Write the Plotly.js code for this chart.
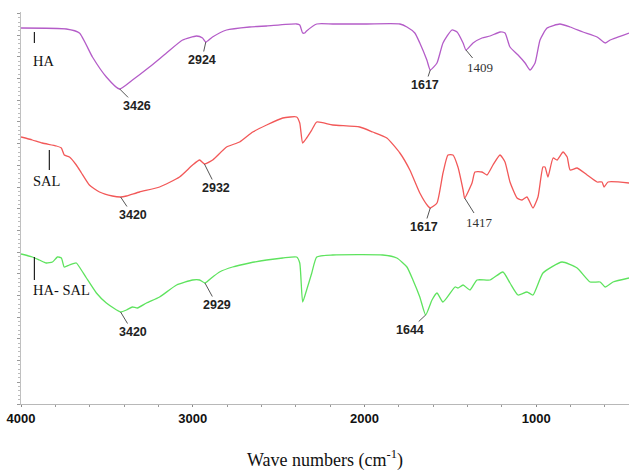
<!DOCTYPE html>
<html>
<head>
<meta charset="utf-8">
<script src="https://cdn.plot.ly/plotly-3.0.1.min.js"></script>
<style>html,body{margin:0;padding:0;background:#fff;}#chart{width:629px;height:474px;}</style>
</head>
<body>
<div id="chart"></div>
<script>
// Wavenumbers (cm-1) and relative transmittance (arbitrary, stacked)
const wnHA = [4000,3736,3660,3584,3503,3427,3351,3252,3153,3059,2978,2943,2924,2885,2803,2669,2570,2395,2377,2360,2348,2337,2278,2185,1987,1794,1753,1707,1678,1637,1617,1578,1543,1491,1461,1426,1409,1368,1316,1269,1211,1182,1153,1106,1065,1036,1007,978,937,862,803,728,646,599,570,460];
const tHA  = [376,375,371,347,327,315,324,337,351,364,368,366,362,367,374,377,378,380,379,371,371,373,380,380,380,380,377,371,361,344,334,341,361,374,372,361,354,361,366,368,372,371,357,349,341,334,341,364,376,380,377,372,367,361,364,371];

const wnSAL = [4000,3934,3876,3794,3765,3748,3718,3678,3648,3602,3543,3468,3420,3386,3310,3193,3077,3001,2960,2932,2884,2803,2727,2651,2570,2476,2395,2377,2360,2337,2307,2278,2185,2028,1952,1870,1794,1736,1678,1631,1617,1578,1543,1514,1485,1456,1426,1417,1374,1357,1316,1287,1252,1211,1182,1153,1112,1083,1054,1019,990,961,949,932,902,879,844,820,803,762,704,646,617,605,582,460];
const tSAL  = [267,264,261,258,256,249,247,239,231,219,212,208,207,208,212,217,227,239,244,240,244,257,262,272,279,286,287,281,261,266,274,282,279,277,272,266,251,234,211,198,196,201,231,249,249,237,214,206,221,232,232,229,239,249,242,222,206,204,207,196,207,237,237,227,246,244,252,247,234,236,229,222,222,217,222,221];

const wnMIX = [4000,3934,3893,3853,3817,3788,3765,3748,3718,3678,3660,3619,3561,3503,3420,3386,3351,3322,3269,3193,3094,3001,2960,2929,2884,2844,2768,2669,2570,2476,2395,2377,2360,2337,2307,2278,2185,1894,1812,1753,1718,1678,1644,1607,1578,1543,1473,1456,1426,1386,1345,1269,1194,1153,1106,1054,1019,961,850,762,686,628,599,553,460];
const tMIX  = [150,147,144,141,142,147,146,137,139,141,137,126,111,101,92,94,97,96,101,107,119,124,124,121,127,132,137,141,144,146,147,141,102,114,131,147,149,149,146,137,124,107,89,104,111,102,117,116,119,114,124,124,132,121,109,112,109,131,142,136,122,122,117,122,126];

const seriesNames = ["HA", "SAL", "HA- SAL"];
const seriesColors = ["#b45cc8", "#f25858", "#5ee35e"];

// Peak labels: [series index, wavenumber, text, serif?]
const peakSeries = [0,0,0,0, 1,1,1,1, 2,2,2];
const peakWn     = [3426,2924,1617,1409, 3420,2932,1617,1417, 3420,2929,1644];
const peakText   = ["3426","2924","1617","1409","3420","2932","1617","1417","3420","2929","1644"];
const peakSerif  = [false,false,false,true, false,false,false,true, false,false,false];
const peakDx     = [17,-4,-5,14, 12,12,-6,15, 12,12,-16];
const peakDy     = [17,18,15,17, 18,24,19,24, 20,22,15];

const tickVals = [4000,3000,2000,1000];
const tickText = ["4000","3000","2000","1000"];

const wnArr = [wnHA, wnSAL, wnMIX];
const tArr = [tHA, tSAL, tMIX];

function interp(ws, ts, w) {
  for (let i = 0; i < ws.length - 1; i++) {
    const a = ws[i], b = ws[i+1];
    if ((w <= a && w >= b) || (w >= a && w <= b)) {
      const f = (w - a) / (b - a);
      return ts[i] + f * (ts[i+1] - ts[i]);
    }
  }
  return ts[ts.length-1];
}

const traces = wnArr.map((w, i) => ({
  x: w, y: tArr[i], type: "scatter", mode: "lines", name: seriesNames[i],
  line: {color: seriesColors[i], width: 1.3, shape: "spline", smoothing: 0.5}, hoverinfo: "skip"
}));

const annotations = [];
for (let k = 0; k < peakWn.length; k++) {
  const s = peakSeries[k];
  annotations.push({
    x: peakWn[k], y: interp(wnArr[s], tArr[s], peakWn[k]), xref: "x", yref: "y",
    text: peakText[k], showarrow: true, arrowhead: 0, arrowwidth: 1, arrowcolor: "#555",
    ax: peakDx[k], ay: peakDy[k], standoff: 0,
    font: peakSerif[k] ? {family: "Liberation Serif, serif", size: 13, color: "#333"}
                       : {family: "Liberation Sans, Arial, sans-serif", size: 12.5, color: "#222", weight: "bold"}
  });
}

// Sample name labels with small vertical markers
const nameWn = [3922, 3835, 3922];
const nameTop = [372, 254, 147];
const nameBottom = [361, 234, 124];
const nameTextY = [343, 223, 114];
const shapes = [];
for (let i = 0; i < 3; i++) {
  shapes.push({type: "line", xref: "x", yref: "y", x0: nameWn[i], x1: nameWn[i], y0: nameTop[i], y1: nameBottom[i],
    line: {color: "#222", width: 1.2}});
  annotations.push({x: 3922, y: nameTextY[i], xref: "x", yref: "y", text: seriesNames[i], showarrow: false,
    xanchor: "left", yanchor: "middle", xshift: -3,
    font: {family: "Liberation Serif, serif", size: 14.5, color: "#111"}});
}

const layout = {
  width: 629, height: 474,
  margin: {l: 21, r: 0, t: 12, b: 70},
  paper_bgcolor: "#ffffff", plot_bgcolor: "#ffffff",
  showlegend: false,
  xaxis: {
    range: [4000, 460], showgrid: false, zeroline: false,
    showline: true, linecolor: "#b8b8b8", linewidth: 1,
    tickmode: "array", tickvals: tickVals, ticktext: tickText,
    ticks: "outside", ticklen: 2, tickcolor: "#888",
    minor: {dtick: 200, tick0: 0, ticks: "outside", ticklen: 2, tickcolor: "#999"},
    tickfont: {family: "Liberation Sans, Arial, sans-serif", size: 13, color: "#111", weight: "bold"},
    title: {text: "Wave numbers (cm<sup>-1</sup>)", standoff: 28,
      font: {family: "Liberation Serif, serif", size: 18, color: "#111"}}
  },
  yaxis: {
    range: [0, 392], showgrid: false, zeroline: false, showticklabels: false,
    showline: true, linecolor: "#c0c0c0", linewidth: 1,
    ticks: "outside", ticklen: 3, tickcolor: "#999", dtick: 21.7, tick0: 0,
    minor: {dtick: 4.34, tick0: 0, ticks: "outside", ticklen: 2, tickcolor: "#bbb"}
  },
  annotations: annotations,
  shapes: shapes
};

Plotly.newPlot("chart", traces, layout, {staticPlot: true, displayModeBar: false});
</script>
</body>
</html>
